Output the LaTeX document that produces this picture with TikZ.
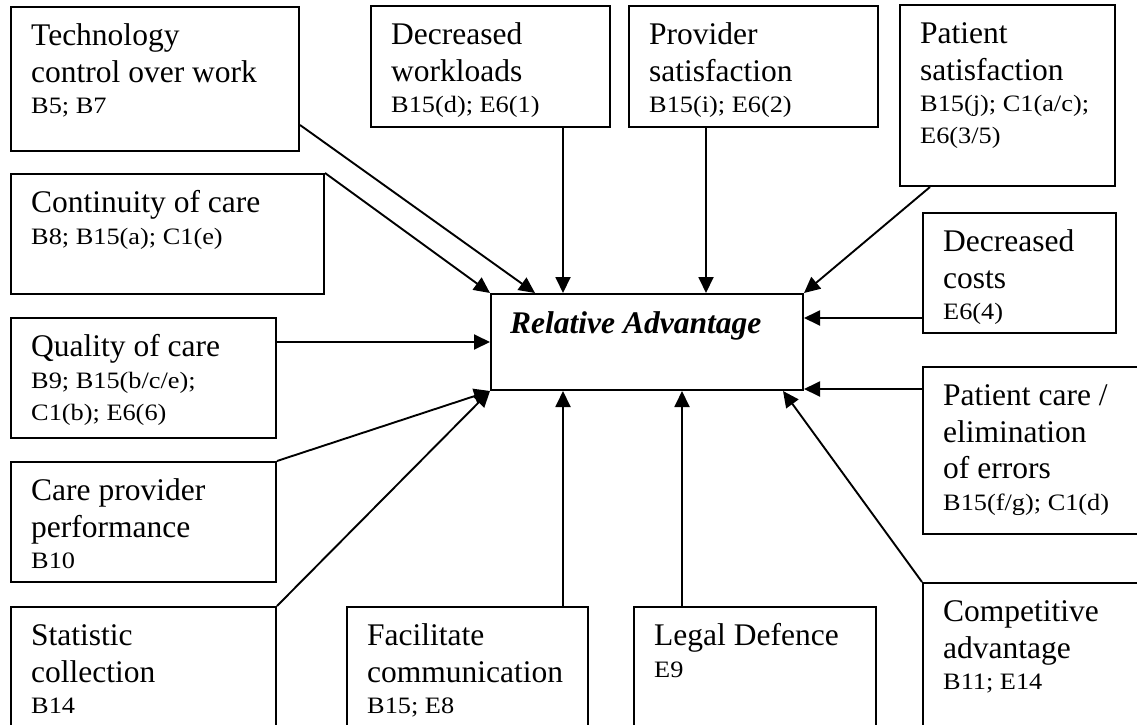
\documentclass[tikz,border=0pt]{standalone}
\usepackage{fontspec}
\setmainfont{Liberation Serif}
\newfontfamily\reffamily[FakeStretch=1.12]{Liberation Serif}
\usetikzlibrary{arrows.meta,calc}
\newcommand\mainsize{\fontsize{31.5}{36.5}\selectfont}
\newcommand\refsize{\reffamily\fontsize{23.5}{32}\selectfont}
% strut that fixes the height of the first line of every label
\newcommand\firstline{\rule{0pt}{24pt}}

\begin{document}
\begin{tikzpicture}[x=1pt,y=-1pt,
  box/.style={draw, line width=2pt, rectangle, inner sep=0pt, anchor=north west},
  lbl/.style={anchor=north west, inner sep=0pt, align=left, font=\mainsize},
  link/.style={line width=1.9pt, -{Triangle[length=16pt,width=15pt]}}]
\useasboundingbox[fill=white] (0,0) rectangle (1137,725);

% ---- boxes ----
\node[box, minimum width=288pt, minimum height=144pt] (tech)  at (10,6)    {};
\node[box, minimum width=313pt, minimum height=120pt] (cont)  at (10,173)  {};
\node[box, minimum width=265pt, minimum height=120pt] (qual)  at (10,317)  {};
\node[box, minimum width=265pt, minimum height=120pt] (perf)  at (10,461)  {};
\node[box, minimum width=265pt, minimum height=130pt] (stat)  at (10,606)  {};
\node[box, minimum width=241pt, minimum height=130pt] (fac)   at (346,606) {};
\node[box, minimum width=242pt, minimum height=130pt] (legal) at (633,606) {};
\node[box, minimum width=225pt, minimum height=155pt] (comp)  at (922,582) {};
\node[box, minimum width=225pt, minimum height=167pt] (pcare) at (922,366) {};
\node[box, minimum width=193pt, minimum height=120pt] (costs) at (922,212) {};
\node[box, minimum width=215pt, minimum height=181pt] (psat)  at (899,4)   {};
\node[box, minimum width=249pt, minimum height=121pt] (prov)  at (628,5)   {};
\node[box, minimum width=239pt, minimum height=121pt] (wl)    at (370,5)   {};
\node[box, minimum width=312pt, minimum height=96pt]  (ra)    at (490,293) {};

% ---- labels ----
\node[lbl] (tech-t)  at ([shift={(21,15.5)}]tech.north west)
  {\firstline Technology\\control over work\\[-5pt]{\refsize B5; B7}};
\node[lbl] (cont-t)  at ([shift={(21,15.5)}]cont.north west)
  {\firstline Continuity of care\\[-5pt]{\refsize B8; B15(a); C1(e)}};
\node[lbl] (qual-t)  at ([shift={(21,15.5)}]qual.north west)
  {\firstline Quality of care\\[-5pt]{\refsize B9; B15(b/c/e);}\\[-4.5pt]{\refsize C1(b); E6(6)}};
\node[lbl] (perf-t)  at ([shift={(21,15.5)}]perf.north west)
  {\firstline Care provider\\performance\\[-5pt]{\refsize B10}};
\node[lbl] (stat-t)  at ([shift={(21,15.5)}]stat.north west)
  {\firstline Statistic\\collection\\[-5pt]{\refsize B14}};
\node[lbl] (fac-t)   at ([shift={(21,15.5)}]fac.north west)
  {\firstline Facilitate\\communication\\[-5pt]{\refsize B15; E8}};
\node[lbl] (legal-t) at ([shift={(21,15.5)}]legal.north west)
  {\firstline Legal Defence\\[-5pt]{\refsize E9}};
\node[lbl] (comp-t)  at ([shift={(21,15.5)}]comp.north west)
  {\firstline Competitive\\advantage\\[-5pt]{\refsize B11; E14}};
\node[lbl] (pcare-t) at ([shift={(21,15.5)}]pcare.north west)
  {\firstline Patient care /\\elimination\\of errors\\[-5pt]{\refsize B15(f/g); C1(d)}};
\node[lbl] (costs-t) at ([shift={(21,15.5)}]costs.north west)
  {\firstline Decreased\\costs\\[-5pt]{\refsize E6(4)}};
\node[lbl] (psat-t)  at ([shift={(21,15.5)}]psat.north west)
  {\firstline Patient\\satisfaction\\[-5pt]{\refsize B15(j); C1(a/c);}\\[-4.5pt]{\refsize E6(3/5)}};
\node[lbl] (prov-t)  at ([shift={(21,15.5)}]prov.north west)
  {\firstline Provider\\satisfaction\\[-5pt]{\refsize B15(i); E6(2)}};
\node[lbl] (wl-t)    at ([shift={(21,15.5)}]wl.north west)
  {\firstline Decreased\\workloads\\[-5pt]{\refsize B15(d); E6(1)}};
\node[lbl, font=\mainsize\bfseries\itshape] (ra-t) at ([shift={(20,16)}]ra.north west)
  {\firstline Relative Advantage};

% ---- connectors into the central box ----
\draw[link] ([shift={(0,119)}]tech.north east) -- ([shift={(45,0)}]ra.north west);
\draw[link] (cont.north east) -- (ra.north west);
\draw[link] ([shift={(193,0)}]wl.south west) coordinate (wl-out) -- (wl-out |- ra.north);
\draw[link] ([shift={(78,0)}]prov.south west) coordinate (prov-out) -- (prov-out |- ra.north);
\draw[link] ([shift={(31,0)}]psat.south west) -- (ra.north east);
\draw[link] ([shift={(0,106)}]costs.north west) coordinate (costs-out) -- (costs-out -| ra.east);
\draw[link] ([shift={(0,23)}]pcare.north west) coordinate (pcare-out) -- (pcare-out -| ra.east);
\draw[link] (comp.north west) -- ([shift={(-21,0)}]ra.south east);
\draw[link] ([shift={(49,0)}]legal.north west) coordinate (legal-out) -- (legal-out |- ra.south);
\draw[link] ([shift={(217,0)}]fac.north west) coordinate (fac-out) -- (fac-out |- ra.south);
\draw[link] (stat.north east) -- (ra.south west);
\draw[link] (perf.north east) -- (ra.south west);
\draw[link] ([shift={(0,25)}]qual.north east) coordinate (qual-out) -- (qual-out -| ra.west);
\end{tikzpicture}
\end{document}
